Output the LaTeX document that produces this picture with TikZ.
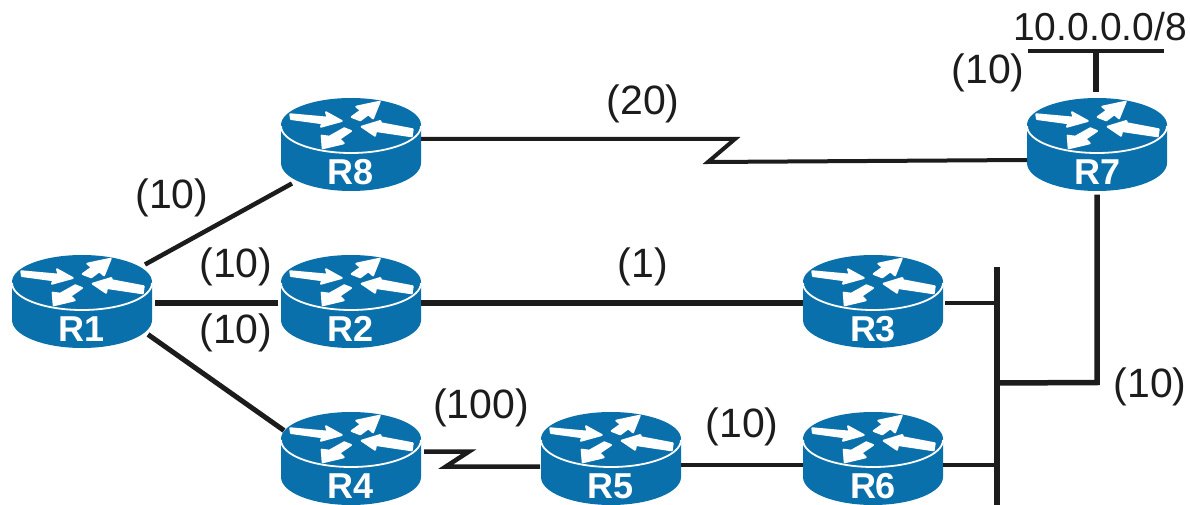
\documentclass[tikz,border=0pt]{standalone}
\usepackage{fontspec}
\setmainfont{Liberation Sans}
\usetikzlibrary{calc}
\definecolor{rblue}{HTML}{0A70AB}
\definecolor{ink}{HTML}{1C1C1C}
\tikzset{
  x=1pt,y=-1pt,
  routerbox/.style={rectangle,minimum width=140pt,minimum height=93pt,inner sep=0pt},
  routertext/.style={text=white,font=\fontsize{36}{36}\selectfont\bfseries,inner sep=0pt},
  rarrow/.style={fill=white,draw=white,line width=2pt,line join=round},
  lbl/.style={text=ink,font=\fontsize{41}{41}\selectfont,inner sep=0pt},
  netlbl/.style={text=ink,font=\fontsize{39}{39}\selectfont,inner sep=0pt},
  wire/.style={draw=ink,line width=#1,line join=miter},
  wire/.default=4pt
}
\newcommand{\router}[4]{%
  \begin{scope}[shift={(#2,#3)}]
    \fill[rblue] (-70,0) -- (-70,38) arc[start angle=180,end angle=360,x radius=70pt,y radius=28pt] -- (70,0) arc[start angle=0,end angle=180,x radius=70pt,y radius=27pt] -- cycle;
    \draw[white,line width=1.8pt] (-70,1) arc[start angle=180,end angle=360,x radius=70pt,y radius=27pt];
    \path[rarrow] (-60.7,-10.7) -- (-23.3,-7.3) -- (-25,-12.7) -- (-9.3,-4) -- (-30,1.7) -- (-28.3,-1.7) -- (-60,-6) -- cycle;
    \path[rarrow] (0.7,-8) -- (10,-14.7) -- (5.3,-18.3) -- (28.7,-23.3) -- (22,-6.7) -- (17.3,-10.7) -- (9.3,-4.7) -- cycle;
    \path[rarrow] (61.7,4.3) -- (30,-1.7) -- (29.3,-4) -- (10.7,1.7) -- (24,10.7) -- (25,6) -- (60.7,11.3) -- cycle;
    \path[rarrow] (-6.7,3.3) -- (0,6) -- (-11.7,14) -- (-7.3,18.3) -- (-28.3,23.3) -- (-29.3,10.7) -- (-21.7,11.7) -- cycle;
    \node[routerbox] (#1) at (0,19.5) {};
    \node[routertext] (#1t) at (0,47) {#4};
  \end{scope}}
\begin{document}
\begin{tikzpicture}
\useasboundingbox (0,0) rectangle (1190,505);
\clip (0,0) rectangle (1190,505);
\router{R1}{82}{282}{R1}
\router{R8}{351}{125}{R8}
\router{R2}{351}{282}{R2}
\router{R3}{873}{282}{R3}
\router{R4}{351}{439}{R4}
\router{R5}{611}{439}{R5}
\router{R6}{873}{439}{R6}
\router{R7}{1097}{125}{R7}
% named free ends
\coordinate (busT) at (997,267);
\coordinate (busB) at (997,505);
\coordinate (netL) at (1028,51);
\coordinate (netR) at (1164,51);
\coordinate (netM) at (1096,51);
% connectors
\draw[wire=4.5pt] ($(R1.center)+(63,-37)$) -- ($(R8.center)+(-59,39)$);
\draw[wire=6.5pt] ($(R1.center)+(73,1.5)$) -- ($(R2.center)+(-73,1.5)$);
\draw[wire=5pt] ($(R1.center)+(66,33)$) -- ($(R4.center)+(-67,-28)$);
\draw[wire=5.5pt] ($(R2.center)+(70,1.5)$) -- ($(R3.center)+(-70,1.5)$);
\draw[wire=4.5pt] ($(R3.center)+(72,1.5)$) -- (busT |- {$(R3.center)+(0,1.5)$});
\draw[wire=4pt] ($(R6.center)+(70,6.5)$) -- (busT |- {$(R6.center)+(0,6.5)$});
\draw[wire=6pt] (busT) -- (busB);
\draw[wire=3.5pt] ($(R5.center)+(70,6.5)$) -- ($(R6.center)+(-70,6.5)$);
\draw[wire=4.5pt] ($(R4.center)+(73,-7)$) -- ++(45,0) -- ++(-23,15) -- ($(R5.center)+(-71,8)$);
\draw[wire=4pt] ($(R8.center)+(70,-5.5)$) -- ++(314,0) -- ++(-27,23) -- ($(R7.center)+(-70,15.5)$);
\draw[wire=5.5pt] ($(R7.center)+(0,50)$) -- ++(0,188) -- (busT |- 0,383);
\draw[wire=4.5pt] (netL) -- (netR);
\draw[wire=5.5pt] (netM) -- ($(R7.center)+(-1,-52)$);
% labels
\node[netlbl] (l1) at (1100,27) {10.0.0.0/8};
\node[lbl] (l2) at (988,73) {(10)};
\node[lbl] (l3) at (643,104) {(20)};
\node[lbl] (l4) at (172,198) {(10)};
\node[lbl] (l5) at (236,267) {(10)};
\node[lbl] (l6) at (236,333) {(10)};
\node[lbl] (l7) at (643,267) {(1)};
\node[lbl] (l8) at (481,408) {(100)};
\node[lbl] (l9) at (742,427) {(10)};
\node[lbl] (l10) at (1150,387) {(10)};
\end{tikzpicture}
\end{document}
